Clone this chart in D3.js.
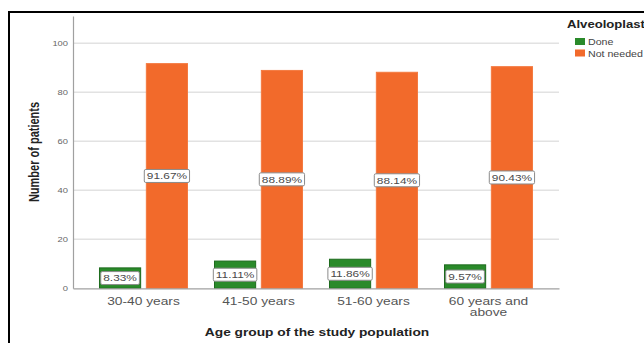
<!DOCTYPE html>
<html>
<head>
<meta charset="utf-8">
<script src="https://cdn.jsdelivr.net/npm/d3@7"></script>
<style>
  html, body { margin: 0; padding: 0; background: #fff; }
  svg { display: block; font-family: "Liberation Sans", Arial, sans-serif; }
</style>
</head>
<body>
<svg id="chart" width="644" height="343"></svg>
<script>
const categories = ["30-40 years", "41-50 years", "51-60 years", "60 years and above"];
const seriesNames = ["Done", "Not needed"];
const doneValues = [8.33, 11.11, 11.86, 9.57];
const notNeededValues = [91.67, 88.89, 88.14, 90.43];
const yTicks = [0, 20, 40, 60, 80, 100];
const colors = { "Done": "#2a8a2a", "Not needed": "#f26a2b" };
const strokeColors = { "Done": "#1d6b1d", "Not needed": "#f47a40" };

const SX = 1.25; // horizontal stretch of the original picture

const svg = d3.select("#chart");

const x0 = d3.scaleBand().domain(categories).range([73, 559]).paddingInner(0.226).paddingOuter(0.226);
const x1 = d3.scaleBand().domain(seriesNames).range([0, x0.bandwidth()]).paddingInner(0.1);
const y = d3.scaleLinear().domain([0, 111.1]).range([288.3, 16]);

// frame
svg.append("line").attr("x1", 9).attr("x2", 644).attr("y1", 12).attr("y2", 12).attr("stroke", "#000").attr("stroke-width", 2);
svg.append("line").attr("x1", 9).attr("x2", 9).attr("y1", 11).attr("y2", 343).attr("stroke", "#000").attr("stroke-width", 2);

// gridlines
svg.append("g").selectAll("line").data(yTicks.filter(d => d > 0)).join("line")
  .attr("x1", 73).attr("x2", 559)
  .attr("y1", d => y(d)).attr("y2", d => y(d))
  .attr("stroke", "#e2e2e2").attr("stroke-width", 1.5);

// y axis
const yAxis = svg.append("g").attr("transform", "translate(73,0)")
  .call(d3.axisLeft(y).tickValues(yTicks).tickSize(0).tickPadding(5));
yAxis.select(".domain").attr("stroke", "#a0a0a0").attr("stroke-width", 1.2);
yAxis.selectAll("text").attr("font-size", 7.5).attr("fill", "#666")
  .attr("font-family", "Liberation Sans, Arial, sans-serif")
  .attr("transform", `scale(${SX},1)`)
  .attr("x", -5 / SX);

// bars
const rows = categories.map((c, i) => ({ cat: c, vals: [
  { key: "Done", value: doneValues[i] },
  { key: "Not needed", value: notNeededValues[i] }
]}));

const groups = svg.append("g").selectAll("g").data(rows).join("g")
  .attr("transform", d => `translate(${x0(d.cat)},0)`);

groups.selectAll("rect").data(d => d.vals).join("rect")
  .attr("x", d => x1(d.key) + 0.5)
  .attr("width", x1.bandwidth() - 1)
  .attr("y", d => y(d.value))
  .attr("height", d => y(0) - y(d.value))
  .attr("fill", d => colors[d.key])
  .attr("stroke", d => strokeColors[d.key])
  .attr("stroke-width", 1);

// x axis
const xAxis = svg.append("g").attr("transform", `translate(0,${y(0)})`)
  .call(d3.axisBottom(x0).tickSize(0).tickPadding(9));
xAxis.select(".domain").attr("stroke", "#a0a0a0").attr("stroke-width", 1.2);
xAxis.selectAll("text").attr("font-size", 11).attr("fill", "#555")
  .attr("font-family", "Liberation Sans, Arial, sans-serif")
  .attr("transform", `scale(${SX},1)`)
  .each(function(d) {
    const t = d3.select(this);
    const words = d.split(" ");
    t.text(null);
    let line = [];
    const maxW = 95 / SX;
    let tsp = t.append("tspan").attr("x", 0);
    words.forEach(w => {
      line.push(w);
      tsp.text(line.join(" "));
      if (tsp.node().getComputedTextLength() > maxW && line.length > 1) {
        line.pop();
        tsp.text(line.join(" "));
        line = [w];
        tsp = t.append("tspan").attr("x", 0).attr("dy", "1em").text(w);
      }
    });
  });

// value labels
groups.each(function(row) {
  const g = d3.select(this);
  row.vals.forEach(v => {
    const cx = x1(v.key) + x1.bandwidth() / 2;
    const cy = (y(v.value) + y(0)) / 2;
    const lg = g.append("g").attr("transform", `translate(${cx},${cy})`);
    const rect = lg.append("rect");
    const txt = lg.append("text")
      .attr("text-anchor", "middle").attr("dy", "0.35em")
      .attr("font-size", 9.5).attr("fill", "#4a4a4a")
      .attr("transform", `scale(${SX},1)`)
      .text(v.value.toFixed(2) + "%");
    const w = txt.node().getComputedTextLength() * SX + 5;
    rect.attr("x", -w / 2).attr("y", -6.5).attr("width", w).attr("height", 13)
      .attr("rx", 1.5).attr("fill", "#fff").attr("stroke", "#8a8a8a").attr("stroke-width", 1);
  });
});

// axis titles
svg.append("text").attr("transform", `translate(317,336) scale(${SX},1)`)
  .attr("text-anchor", "middle").attr("font-size", 11).attr("font-weight", "bold").attr("fill", "#222")
  .text("Age group of the study population");
svg.append("text").attr("transform", `translate(39,152) scale(${SX},1) rotate(-90)`)
  .attr("text-anchor", "middle").attr("font-size", 11).attr("font-weight", "bold").attr("fill", "#222")
  .text("Number of patients");

// legend
const legend = svg.append("g");
legend.append("text").attr("transform", `translate(567,28) scale(${SX},1)`)
  .attr("font-size", 10.5).attr("font-weight", "bold").attr("fill", "#222").text("Alveoloplasty");
const items = legend.selectAll("g.item").data(seriesNames).join("g").attr("class", "item")
  .attr("transform", (d, i) => `translate(575,${38 + i * 11.5})`);
items.append("rect").attr("width", 10).attr("height", 7).attr("fill", d => colors[d]);
items.append("text").attr("transform", `translate(13,7) scale(${SX},1)`)
  .attr("font-size", 8.5).attr("fill", "#444").text(d => d);
</script>
</body>
</html>
